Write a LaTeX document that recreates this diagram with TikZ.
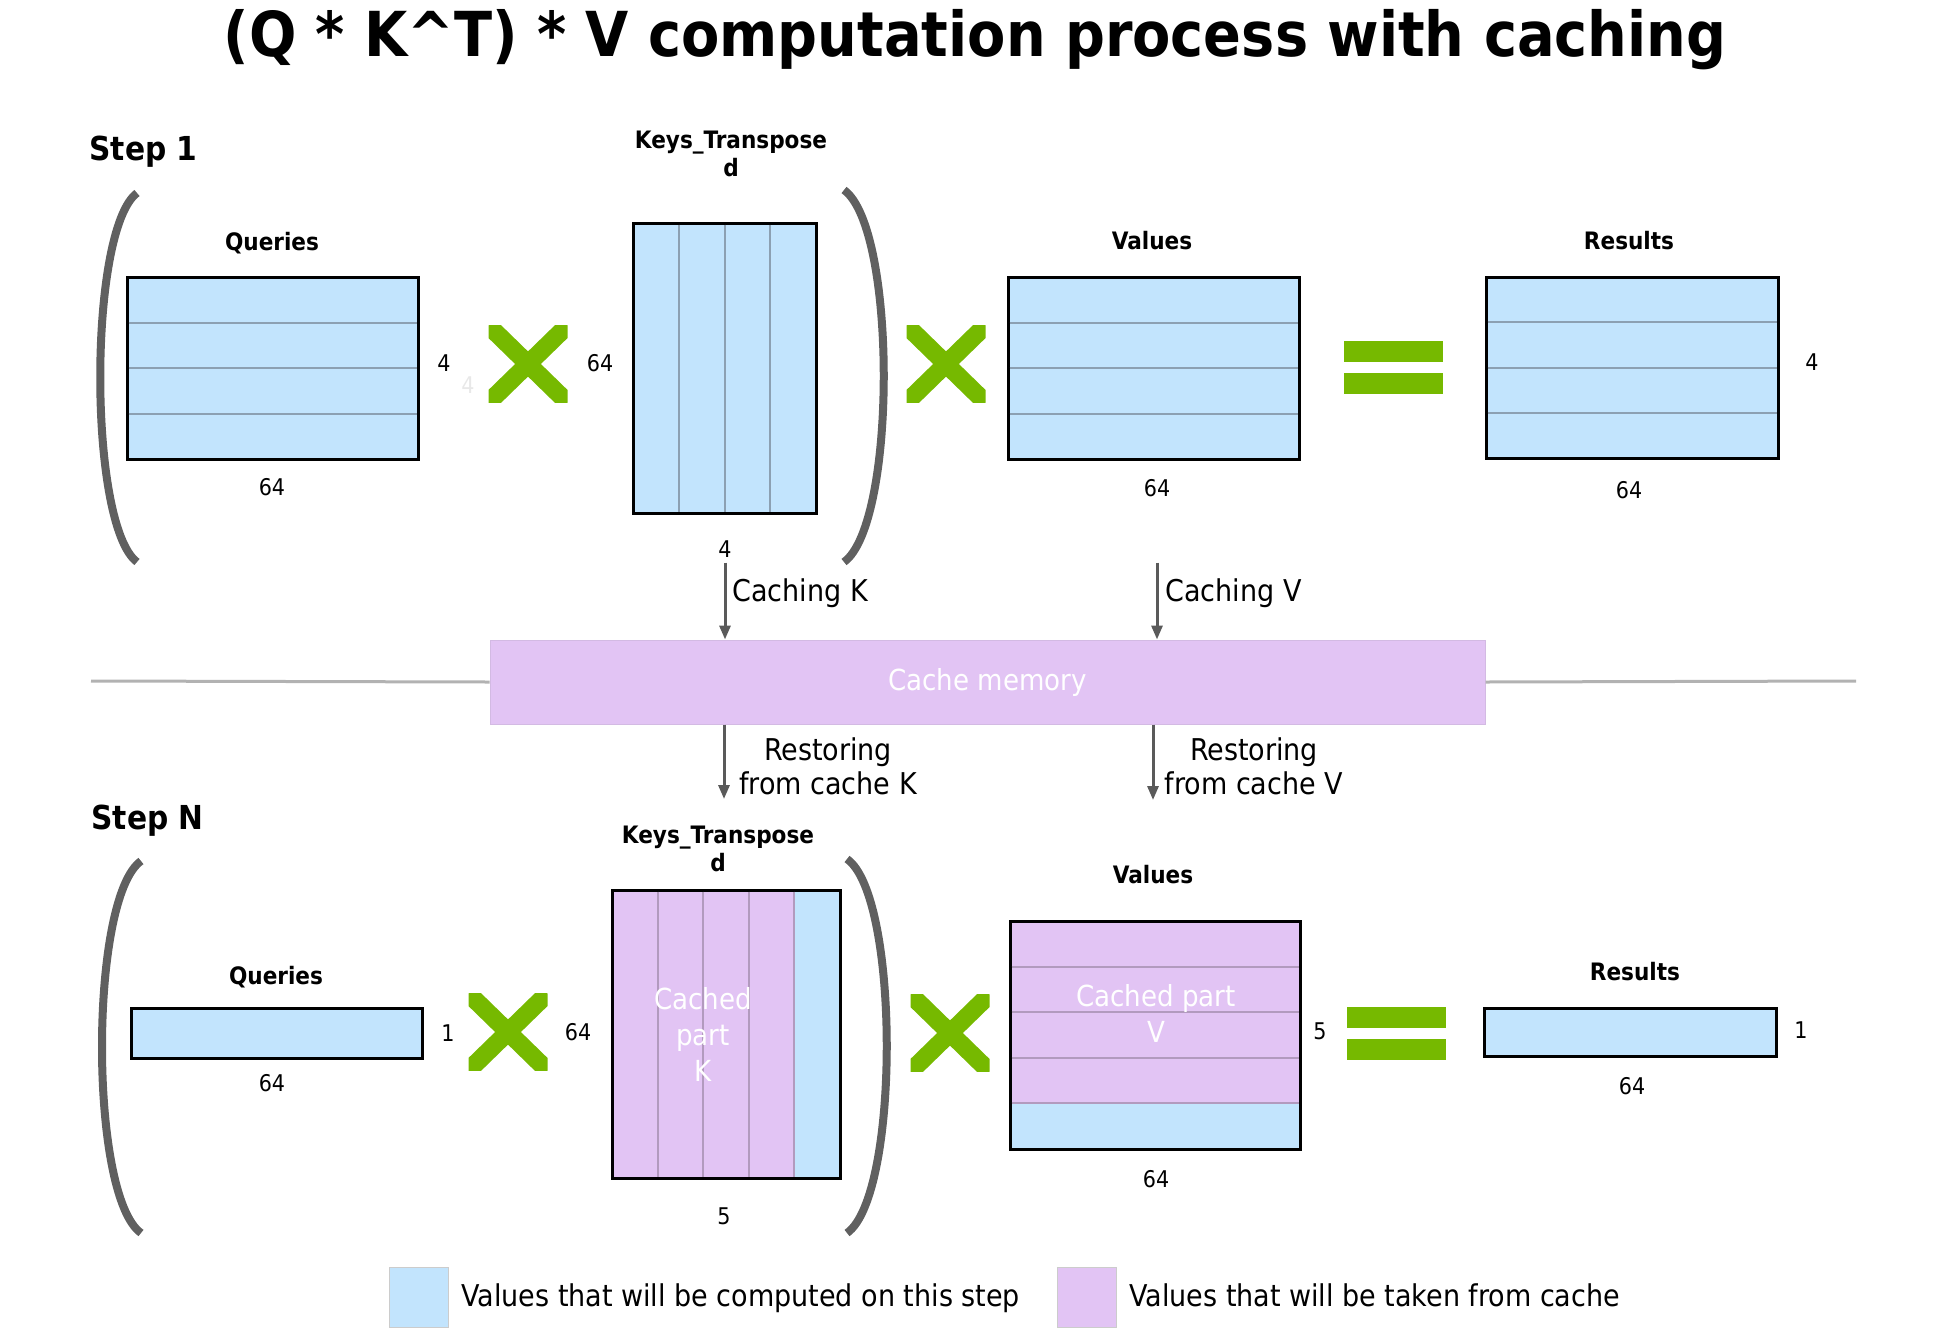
\documentclass[tikz,border=0pt]{standalone}
\usepackage{fontspec}
\setmainfont{DejaVu Sans Condensed}
\usepackage{tikz}
\usetikzlibrary{positioning, arrows.meta, calc}

\definecolor{compblue}{RGB}{194,228,253}
\definecolor{cachepurple}{RGB}{226,196,244}
\definecolor{nvgreen}{RGB}{118,185,0}
\definecolor{bracegray}{RGB}{96,96,96}
\definecolor{arrowgray}{RGB}{90,90,90}
\definecolor{gridblue}{RGB}{140,160,178}
\definecolor{gridpurple}{RGB}{178,154,190}

\tikzset{
  mat/.style={draw=black, line width=3pt, fill=compblue, inner sep=0pt, outer sep=0pt},
  gridline/.style={line width=2pt, draw=gridblue, shorten <=1.5pt, shorten >=1.5pt},
  matname/.style={font=\fontsize{24}{28}\selectfont\bfseries, align=center},
  dimlbl/.style={font=\fontsize{23}{26}\selectfont, inner sep=2pt},
  steplbl/.style={font=\fontsize{33}{36}\selectfont\bfseries, anchor=west},
  flowlbl/.style={font=\fontsize{30}{34}\selectfont, align=center},
  cachetxt/.style={font=\fontsize{29}{36}\selectfont, text=white, align=center},
  arr/.style={-{Triangle[length=14pt,width=11pt]}, line width=3pt, draw=arrowgray},
  paren/.style={line width=8pt, draw=bracegray},
  timesmark/.style={minimum width=79pt, minimum height=77pt, inner sep=0pt,
    path picture={\draw[line width=18pt, nvgreen]
      (path picture bounding box.north west) -- (path picture bounding box.south east)
      (path picture bounding box.north east) -- (path picture bounding box.south west);}},
  equalsmark/.style={minimum width=99pt, minimum height=53pt, inner sep=0pt,
    path picture={\fill[nvgreen] (path picture bounding box.north west) rectangle
      ([yshift=-21pt]path picture bounding box.north east);
      \fill[nvgreen] ([yshift=21pt]path picture bounding box.south west) rectangle
      (path picture bounding box.south east);}},
  legbox/.style={minimum width=59pt, minimum height=60pt, inner sep=0pt, draw=gray!40, line width=1pt}
}

\begin{document}
\begin{tikzpicture}[x=1pt, y=-1pt]
  \useasboundingbox (0,0) rectangle (1957,1331);

  % title
  \node[font=\fontsize{62}{70}\selectfont\bfseries] (title) at (975,40)
       {(Q * K\^{}T) * V computation process with caching};

  % ---------------- step 1 ----------------
  \node[steplbl] (step1) at (86,152) {Step 1};
  \draw[paren] (137,193) .. controls (88,230) and (88,525) .. (137,562);
  \draw[paren] (844,190) .. controls (897,228) and (897,524) .. (844,562);

  \node[mat, minimum width=291pt, minimum height=182pt] (q1) at (272.5,368) {};
  \node[mat, minimum width=183pt, minimum height=290pt] (k1) at (724.5,368) {};
  \node[mat, minimum width=291pt, minimum height=182pt] (v1) at (1153.5,368) {};
  \node[mat, minimum width=292pt, minimum height=181pt] (r1) at (1632,367.5) {};
  \foreach \m in {q1, v1, r1}{
    \foreach \i in {1,2,3}{
      \draw[gridline] ($(\m.north west)!\i/4!(\m.south west)$) -- ($(\m.north east)!\i/4!(\m.south east)$);
    }
  }
  \foreach \i in {1,2,3}{
    \draw[gridline] ($(k1.north west)!\i/4!(k1.north east)$) -- ($(k1.south west)!\i/4!(k1.south east)$);
  }

  \node[matname] (q1name) at (272,243) {Queries};
  \node[matname] (k1name) at (731,154) {Keys\_Transpose\\d};
  \node[matname] (v1name) at (1152,241) {Values};
  \node[matname] (r1name) at (1629,241) {Results};

  \node[dimlbl] (q1r) at (444,363) {4};
  \node[dimlbl, text=gray!18] (q1ghost) at (468,385) {4};
  \node[dimlbl] (q1c) at (272,487) {64};
  \node[dimlbl] (k1r) at (600,363) {64};
  \node[dimlbl] (k1c) at (725,549) {4};
  \node[dimlbl] (v1c) at (1157,488) {64};
  \node[dimlbl] (r1r) at (1812,362) {4};
  \node[dimlbl] (r1c) at (1629,490) {64};

  \node[timesmark] (x1a) at (528,364) {};
  \node[timesmark] (x1b) at (946,364) {};
  \node[equalsmark] (eq1) at (1393.5,367.5) {};

  % ---------------- cache ----------------
  \node[fill=cachepurple, draw=cachepurple!85!gray, line width=1pt,
        minimum width=995pt, minimum height=84pt, inner sep=0pt] (cache) at (987.5,682) {};
  \node[cachetxt] (cachename) at (cache.center) {Cache memory};
  \coordinate (sepl) at (91,681);
  \coordinate (sepr) at (1856,681);
  \draw[line width=3pt, gray!60] (sepl) -- (cache.west);
  \draw[line width=3pt, gray!60] (cache.east) -- (sepr);

  \draw[arr] ([yshift=-3pt]k1c.south) -- (k1c |- cache.north);
  \draw[arr] ([yshift=-3pt]v1c.south |- k1c.south) -- (v1c |- cache.north);
  \node[flowlbl, anchor=west] (cachk) at (729,593) {Caching K};
  \node[flowlbl, anchor=west] (cachv) at (1162,593) {Caching V};

  \coordinate (rk) at (724,799);
  \coordinate (rv) at (1153,800);
  \draw[arr] (cache.south -| rk) -- (rk);
  \draw[arr] (cache.south -| rv) -- (rv);
  \node[flowlbl] (restk) at (828,766) {Restoring\\from cache K};
  \node[flowlbl] (restv) at (1254,766) {Restoring\\from cache V};

  % ---------------- step N ----------------
  \node[steplbl] (stepn) at (88,821) {Step N};
  \draw[paren] (141,861) .. controls (89,898) and (89,1196) .. (141,1233);
  \draw[paren] (847,859) .. controls (900,896) and (900,1196) .. (847,1233);

  \node[mat, minimum width=291pt, minimum height=50pt] (qn) at (276.5,1033) {};
  \node[mat, fill=cachepurple, minimum width=228pt, minimum height=288pt,
        path picture={\fill[compblue] ([xshift=-46pt]path picture bounding box.north east)
          rectangle (path picture bounding box.south east);}] (kn) at (726,1034) {};
  \node[mat, fill=cachepurple, minimum width=290pt, minimum height=228pt,
        path picture={\fill[compblue] ([yshift=46pt]path picture bounding box.south west)
          rectangle (path picture bounding box.south east);}] (vn) at (1155,1035) {};
  \node[mat, minimum width=292pt, minimum height=48pt] (rn) at (1630,1032) {};
  \foreach \i in {1,2,3,4}{
    \draw[gridline, gridpurple] ($(kn.north west)!\i/5!(kn.north east)$) -- ($(kn.south west)!\i/5!(kn.south east)$);
    \draw[gridline, gridpurple] ($(vn.north west)!\i/5!(vn.south west)$) -- ($(vn.north east)!\i/5!(vn.south east)$);
  }

  \node[cachetxt] (knpart) at (703,1034) {Cached\\part\\K};
  \node[cachetxt] (vnpart) at (1156,1013) {Cached part\\V};

  \node[matname] (qnname) at (276,977) {Queries};
  \node[matname] (knname) at (718,849) {Keys\_Transpose\\d};
  \node[matname] (vnname) at (1153,875) {Values};
  \node[matname] (rnname) at (1635,972) {Results};

  \node[dimlbl] (qnr) at (448,1033) {1};
  \node[dimlbl] (qnc) at (272,1083) {64};
  \node[dimlbl] (knr) at (578,1032) {64};
  \node[dimlbl] (knc) at (724,1216) {5};
  \node[dimlbl] (vnr) at (1320,1031) {5};
  \node[dimlbl] (vnc) at (1156,1179) {64};
  \node[dimlbl] (rnr) at (1801,1030) {1};
  \node[dimlbl] (rnc) at (1632,1086) {64};

  \node[timesmark] (xna) at (508,1032) {};
  \node[timesmark] (xnb) at (950,1033) {};
  \node[equalsmark] (eqn) at (1396.5,1033) {};

  % legend
  \node[legbox, fill=compblue] (legc) at (418.5,1297) {};
  \node[flowlbl, anchor=base west] (legctxt) at (458,1306) {Values that will be computed on this step};
  \node[legbox, fill=cachepurple] (legp) at (1087,1297) {};
  \node[flowlbl, anchor=base west] (legptxt) at (1126,1306) {Values that will be taken from cache};
\end{tikzpicture}
\end{document}
